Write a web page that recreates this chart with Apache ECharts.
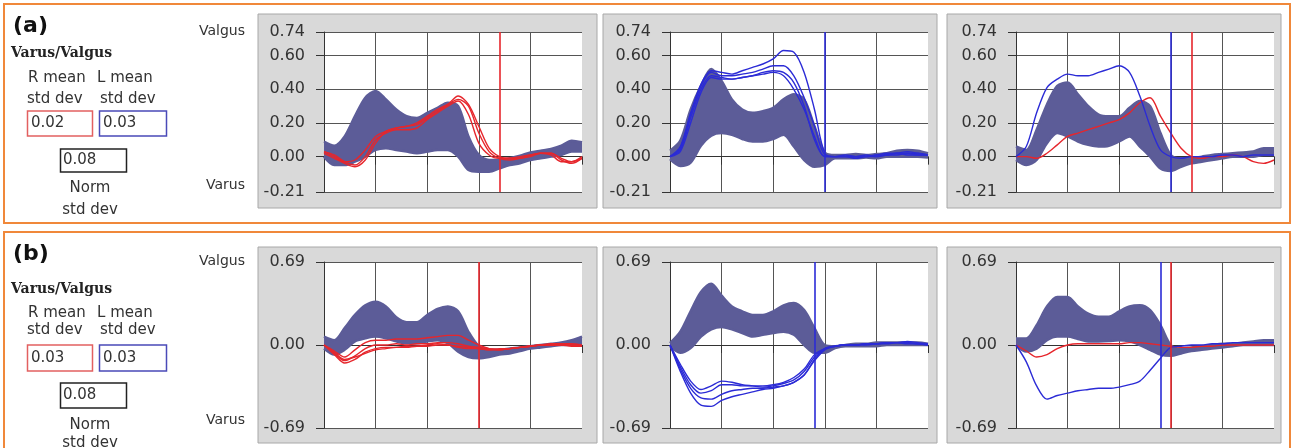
<!DOCTYPE html>
<html><head><meta charset="utf-8">
<script src="https://cdn.jsdelivr.net/npm/echarts@6/dist/echarts.min.js"></script>
<style>html,body{margin:0;padding:0;background:#fff}#c{width:1294px;height:448px}</style>
</head><body><div id="c"></div>
<script>
// ---------- data ----------
const gaitPct = [0,4,8,12,16,20,24,28,32,36,40,44,48,52,56,60,64,68,72,76,80,84,88,92,96,100];
const yTicksA = [-0.21, 0, 0.2, 0.4, 0.6, 0.74];
const yTicksB = [-0.69, 0, 0.69];
const panelTags = ['(a)', '(b)'];
const rMeanStd = ['0.02', '0.03'];
const lMeanStd = ['0.03', '0.03'];
const normStd = ['0.08', '0.08'];

// (a) panel 1 : right knee vs norm
const a1NormHigh = [0.09,0.065,0.12,0.24,0.35,0.39,0.34,0.28,0.24,0.23,0.26,0.29,0.32,0.30,0.12,0.01,-0.02,-0.02,-0.01,0.005,0.025,0.035,0.045,0.065,0.095,0.085];
const a1NormLow  = [0.0,-0.05,-0.05,-0.03,0.0,0.04,0.05,0.04,0.03,0.02,0.03,0.04,0.04,0.0,-0.08,-0.09,-0.09,-0.07,-0.05,-0.04,-0.02,-0.01,0.0,0.01,0.03,0.03];
const a1R1 = [0.03,0.0,-0.03,-0.02,0.04,0.12,0.15,0.17,0.18,0.19,0.23,0.27,0.31,0.36,0.31,0.18,0.05,0.0,-0.01,-0.01,0.01,0.02,0.02,-0.02,-0.04,-0.01];
const a1R2 = [0.03,0.01,-0.03,-0.05,0.0,0.10,0.14,0.16,0.16,0.17,0.22,0.26,0.30,0.33,0.25,0.08,0.01,-0.01,-0.01,0.0,0.01,0.02,0.01,-0.03,-0.03,0.0];
const a1R3 = [0.02,-0.01,-0.04,-0.06,-0.02,0.08,0.15,0.17,0.18,0.20,0.24,0.28,0.31,0.34,0.30,0.14,0.03,-0.01,-0.02,-0.01,0.0,0.02,0.02,-0.01,-0.03,-0.01];

// (a) panel 2 : left knee vs norm
const a2NormHigh = [0.035,0.095,0.28,0.42,0.52,0.45,0.34,0.28,0.26,0.27,0.29,0.34,0.37,0.34,0.18,0.025,0.01,0.01,0.015,0.01,0.015,0.02,0.035,0.04,0.035,0.02];
const a2NormLow  = [-0.015,-0.055,-0.035,0.065,0.125,0.14,0.13,0.105,0.09,0.09,0.105,0.13,0.06,-0.02,-0.06,-0.05,-0.01,-0.01,-0.01,-0.005,-0.01,0.0,0.0,0.0,0.0,-0.005];
const a2L1 = [0.0,0.06,0.26,0.43,0.51,0.50,0.49,0.51,0.53,0.55,0.58,0.63,0.62,0.50,0.28,0.02,0.0,0.0,0.0,0.01,0.0,0.01,0.01,0.02,0.02,0.01];
const a2L2 = [0.0,0.05,0.25,0.42,0.50,0.48,0.48,0.49,0.50,0.52,0.54,0.54,0.48,0.35,0.18,0.01,0.0,0.0,-0.01,0.0,0.0,0.01,0.02,0.01,0.01,0.01];
const a2L3 = [0.0,0.04,0.23,0.40,0.48,0.47,0.46,0.47,0.48,0.49,0.50,0.48,0.40,0.28,0.12,0.0,0.0,0.0,0.0,0.0,0.01,0.01,0.02,0.03,0.02,0.01];
const a2L4 = [0.0,0.03,0.20,0.38,0.47,0.46,0.46,0.47,0.48,0.50,0.51,0.50,0.44,0.30,0.10,0.0,0.0,0.01,0.0,0.0,0.01,0.02,0.02,0.02,0.01,0.01];

// (a) panel 3 : both knees vs norm
const a3NormHigh = [0.06,0.04,0.16,0.31,0.42,0.44,0.37,0.30,0.25,0.24,0.24,0.29,0.33,0.30,0.14,0.01,-0.01,-0.01,0.0,0.01,0.015,0.02,0.025,0.03,0.05,0.05];
const a3NormLow  = [-0.02,-0.05,-0.02,0.08,0.14,0.12,0.09,0.07,0.06,0.065,0.09,0.12,0.06,0.0,-0.07,-0.085,-0.06,-0.04,-0.03,-0.02,-0.01,0.0,0.0,0.0,0.01,0.01];
const a3L = [0.0,0.06,0.26,0.41,0.46,0.49,0.48,0.48,0.50,0.52,0.54,0.50,0.36,0.18,0.04,0.0,-0.01,0.0,0.0,0.0,0.01,0.01,0.0,0.01,0.01,0.01];
const a3R = [0.0,0.0,-0.01,0.02,0.07,0.12,0.14,0.16,0.18,0.20,0.22,0.26,0.32,0.35,0.24,0.14,0.05,0.0,-0.01,0.0,0.0,0.01,0.0,-0.03,-0.04,-0.02];

// (b) panel 1
const b1NormHigh = [0.07,0.04,0.14,0.25,0.33,0.36,0.32,0.23,0.19,0.19,0.25,0.30,0.32,0.28,0.11,-0.01,-0.04,-0.04,-0.03,-0.02,-0.01,0.0,0.01,0.02,0.04,0.07];
const b1NormLow  = [-0.03,-0.08,-0.04,0.03,0.055,0.07,0.055,0.03,0.015,0.015,0.03,0.04,0.015,-0.055,-0.10,-0.11,-0.10,-0.08,-0.07,-0.05,-0.03,-0.02,-0.01,0.0,0.0,0.0];
const b1R1 = [0.0,-0.05,-0.10,-0.04,0.02,0.04,0.04,0.05,0.05,0.05,0.06,0.07,0.08,0.08,0.04,0.0,-0.03,-0.04,-0.03,-0.02,-0.01,0.0,0.0,0.01,0.01,0.0];
const b1R2 = [0.0,-0.07,-0.13,-0.09,-0.03,0.0,0.0,0.01,0.0,0.01,0.01,0.02,0.02,0.01,-0.01,-0.02,-0.03,-0.04,-0.03,-0.02,-0.01,0.0,0.0,0.0,0.0,-0.01];
const b1R3 = [0.0,-0.08,-0.15,-0.12,-0.06,-0.03,-0.02,-0.02,-0.01,-0.01,0.0,0.01,0.0,-0.01,-0.02,-0.03,-0.04,-0.04,-0.03,-0.02,-0.01,0.0,0.01,0.01,0.0,-0.01];
const b1R4 = [0.0,-0.06,-0.12,-0.10,-0.07,-0.04,-0.03,-0.02,-0.02,-0.01,-0.01,0.0,0.0,-0.02,-0.03,-0.03,-0.04,-0.03,-0.03,-0.02,-0.01,0.0,0.0,0.0,-0.01,-0.01];

// (b) panel 2
const b2NormHigh = [0.015,0.11,0.28,0.44,0.51,0.41,0.32,0.28,0.25,0.25,0.28,0.33,0.35,0.29,0.14,0.0,-0.01,0.0,0.01,0.01,0.02,0.02,0.02,0.02,0.02,0.01];
const b2NormLow  = [-0.01,-0.065,-0.025,0.07,0.13,0.15,0.13,0.10,0.07,0.085,0.10,0.11,0.085,0.0,-0.065,-0.065,-0.025,-0.01,-0.01,-0.01,-0.01,0.0,0.0,0.0,0.0,0.0];
const b2L1 = [0.0,-0.16,-0.30,-0.37,-0.34,-0.30,-0.31,-0.33,-0.34,-0.35,-0.34,-0.32,-0.29,-0.22,-0.10,-0.03,-0.01,0.0,0.0,0.01,0.01,0.02,0.02,0.02,0.01,0.01];
const b2L2 = [0.0,-0.18,-0.33,-0.40,-0.38,-0.33,-0.33,-0.34,-0.34,-0.34,-0.33,-0.31,-0.27,-0.20,-0.08,-0.03,-0.01,0.0,0.0,0.01,0.01,0.01,0.02,0.02,0.01,0.0];
const b2L3 = [0.0,-0.20,-0.36,-0.44,-0.45,-0.41,-0.38,-0.37,-0.36,-0.36,-0.35,-0.34,-0.31,-0.25,-0.13,-0.04,-0.01,0.0,0.0,0.0,0.01,0.02,0.02,0.01,0.01,0.0];
const b2L4 = [0.0,-0.22,-0.40,-0.50,-0.51,-0.46,-0.43,-0.41,-0.39,-0.37,-0.36,-0.34,-0.31,-0.25,-0.12,-0.03,-0.01,0.0,0.0,0.01,0.01,0.02,0.02,0.03,0.02,0.01];

// (b) panel 3
const b3NormHigh = [0.055,0.055,0.165,0.32,0.40,0.40,0.32,0.26,0.235,0.235,0.28,0.32,0.33,0.29,0.165,0.0,-0.03,-0.02,-0.01,0.0,0.01,0.01,0.02,0.03,0.04,0.04];
const b3NormLow  = [0.0,-0.055,-0.03,0.04,0.07,0.07,0.05,0.03,0.03,0.033,0.04,0.03,0.0,-0.04,-0.08,-0.09,-0.07,-0.05,-0.04,-0.03,-0.02,-0.01,0.0,0.0,0.0,0.0];
const b3L = [0.0,-0.14,-0.34,-0.45,-0.42,-0.40,-0.38,-0.37,-0.36,-0.36,-0.35,-0.33,-0.30,-0.21,-0.11,-0.02,-0.01,0.0,0.0,0.01,0.01,0.02,0.02,0.02,0.02,0.02];
const b3R = [0.0,-0.05,-0.10,-0.08,-0.03,0.0,0.01,0.01,0.01,0.01,0.01,0.02,0.02,0.01,0.0,-0.01,-0.02,-0.02,-0.01,-0.01,0.0,0.0,0.0,0.0,0.0,0.0];

// toe-off markers (% gait) per panel: a1,a2,a3,b1,b2,b3
const rightToeOff = [68, null, 68, 60, null, 60];
const leftToeOff  = [null, 60, 60, null, 56, 56];

// ---------- styling / layout ----------
const BAND = '#5c5c98', RED = '#e6262c', BLUE = '#2b2bd6';
const GRID_LEFT = [324, 670, 1016], GRID_W = 258;
const ROW = [{top: 32, h: 160}, {top: 262, h: 166}];

const panels = [
  {lo: a1NormLow, hi: a1NormHigh, trials: [[a1R1,RED],[a1R2,RED],[a1R3,RED]]},
  {lo: a2NormLow, hi: a2NormHigh, trials: [[a2L1,BLUE],[a2L2,BLUE],[a2L3,BLUE],[a2L4,BLUE]]},
  {lo: a3NormLow, hi: a3NormHigh, trials: [[a3R,RED],[a3L,BLUE]]},
  {lo: b1NormLow, hi: b1NormHigh, trials: [[b1R1,RED],[b1R2,RED],[b1R3,RED],[b1R4,RED]]},
  {lo: b2NormLow, hi: b2NormHigh, trials: [[b2L1,BLUE],[b2L2,BLUE],[b2L3,BLUE],[b2L4,BLUE]]},
  {lo: b3NormLow, hi: b3NormHigh, trials: [[b3R,RED],[b3L,BLUE]]}
];

const grids = [], xAxes = [], yAxes = [], series = [];
panels.forEach((p, i) => {
  const row = i < 3 ? 0 : 1, col = i % 3;
  const ticks = row === 0 ? yTicksA : yTicksB;
  grids.push({left: GRID_LEFT[col], top: ROW[row].top, width: GRID_W, height: ROW[row].h,
    show: true, backgroundColor: '#ffffff', borderWidth: 0, containLabel: false});
  xAxes.push({type: 'category', gridIndex: i, data: gaitPct, boundaryGap: false,
    axisLine: {lineStyle: {color: '#333', width: 1}},
    axisTick: {show: true, interval: 4, length: 8, lineStyle: {color: '#333'}},
    axisLabel: {show: false},
    splitLine: {show: true, interval: 4, showMaxLine: false, lineStyle: {color: '#555', width: 1}}});
  yAxes.push({type: 'value', gridIndex: i, min: ticks[0], max: ticks[ticks.length - 1],
    axisLine: {show: true, lineStyle: {color: '#333', width: 1}},
    axisTick: {show: true, length: 8, customValues: ticks, lineStyle: {color: '#333'}},
    axisLabel: {show: true, customValues: ticks, margin: 19, color: '#333',
      fontFamily: 'DejaVu Sans', fontSize: 16, formatter: v => v.toFixed(2)},
    splitLine: {show: true, lineStyle: {color: '#555', width: 1}}});
  const stackId = 'norm' + i;
  series.push({type: 'line', xAxisIndex: i, yAxisIndex: i, data: p.lo, stack: stackId,
    stackStrategy: 'all', symbol: 'none', smooth: 0.3, silent: true,
    lineStyle: {color: BAND, width: 2.5}, z: 2});
  series.push({type: 'line', xAxisIndex: i, yAxisIndex: i, data: p.hi.map((v, k) => +(v - p.lo[k]).toFixed(4)),
    stack: stackId, stackStrategy: 'all', symbol: 'none', smooth: 0.3, silent: true,
    lineStyle: {color: BAND, width: 2.5}, areaStyle: {color: BAND, opacity: 1}, z: 2});
  p.trials.forEach(([d, c]) => {
    series.push({type: 'line', xAxisIndex: i, yAxisIndex: i, data: d, symbol: 'none',
      smooth: 0.3, silent: true, lineStyle: {color: c, width: 1.4}, z: 3});
  });
  const ml = [];
  if (rightToeOff[i] != null) ml.push({xAxis: String(rightToeOff[i]), lineStyle: {color: RED, width: 1.6, type: 'solid'}});
  if (leftToeOff[i] != null) ml.push({xAxis: String(leftToeOff[i]), lineStyle: {color: BLUE, width: 1.6, type: 'solid'}});
  series.push({type: 'line', xAxisIndex: i, yAxisIndex: i, data: [], symbol: 'none', z: 4,
    markLine: {silent: true, symbol: 'none', label: {show: false}, animation: false, data: ml}});
});

// ---------- decorations (graphic) ----------
const g = [];
function rect(x, y, w, h, fill, stroke, lw, z) {
  g.push({type: 'rect', z: z, shape: {x: x, y: y, width: w, height: h},
    style: {fill: fill, stroke: stroke, lineWidth: lw}, silent: true});
}
function txt(s, x, y, font, align, color) {
  g.push({type: 'text', z: 50, x: x, y: y, silent: true,
    style: {text: s, font: font, fill: color || '#333', textAlign: align || 'left', align: align || 'left',
      textVerticalAlign: 'middle', verticalAlign: 'middle'}});
}
// orange panel borders
rect(4, 4, 1286, 219, 'none', '#f0883a', 2, -20);
rect(4, 232, 1286, 240, 'none', '#f0883a', 2, -20);
// grey plot frames
const frameX = [[258, 339], [603, 334], [947, 334]];
[[14, 194], [247, 196]].forEach(([fy, fh]) => {
  frameX.forEach(([fx, fw]) => rect(fx, fy, fw, fh, '#d9d9d9', '#a8a8a8', 1, -10));
});

const LY = [
  {tag: 26.5, title: 53, mean: 78, std: 99, boxT: 111, boxH: 25, nT: 149, nH: 23, norm: 188, nstd: 210, valgus: 31, varus: 185},
  {tag: 254.5, title: 289.5, mean: 313, std: 330, boxT: 345, boxH: 26, nT: 383, nH: 25, norm: 425, nstd: 443, valgus: 261, varus: 420}
];
const F = '15px "DejaVu Sans"';
LY.forEach((L, r) => {
  txt(panelTags[r], 13, L.tag, 'bold 22px "DejaVu Sans"', 'left', '#111');
  txt('Varus/Valgus', 11, L.title, 'bold 14px "DejaVu Serif"', 'left', '#222');
  txt('R mean', 28, L.mean, F);
  txt('L mean', 97, L.mean, F);
  txt('std dev', 27, L.std, F);
  txt('std dev', 100, L.std, F);
  rect(27.5, L.boxT, 65, L.boxH, '#fff', '#e26060', 1.5, 5);
  rect(99.5, L.boxT, 67, L.boxH, '#fff', '#4a4ab8', 1.5, 5);
  txt(rMeanStd[r], 31, L.boxT + L.boxH / 2, F);
  txt(lMeanStd[r], 103, L.boxT + L.boxH / 2, F);
  rect(60.5, L.nT, 66, L.nH, '#fff', '#222', 1.5, 5);
  txt(normStd[r], 63, L.nT + L.nH / 2, F);
  txt('Norm', 90, L.norm, F, 'center');
  txt('std dev', 90, L.nstd, F, 'center');
  txt('Valgus', 245, L.valgus, '14px "DejaVu Sans"', 'right');
  txt('Varus', 245, L.varus, '14px "DejaVu Sans"', 'right');
});

const chart = echarts.init(document.getElementById('c'), null, {renderer: 'canvas', width: 1294, height: 448});
chart.setOption({
  animation: false,
  backgroundColor: '#ffffff',
  grid: grids, xAxis: xAxes, yAxis: yAxes, series: series, graphic: {elements: g}
});
</script></body></html>
